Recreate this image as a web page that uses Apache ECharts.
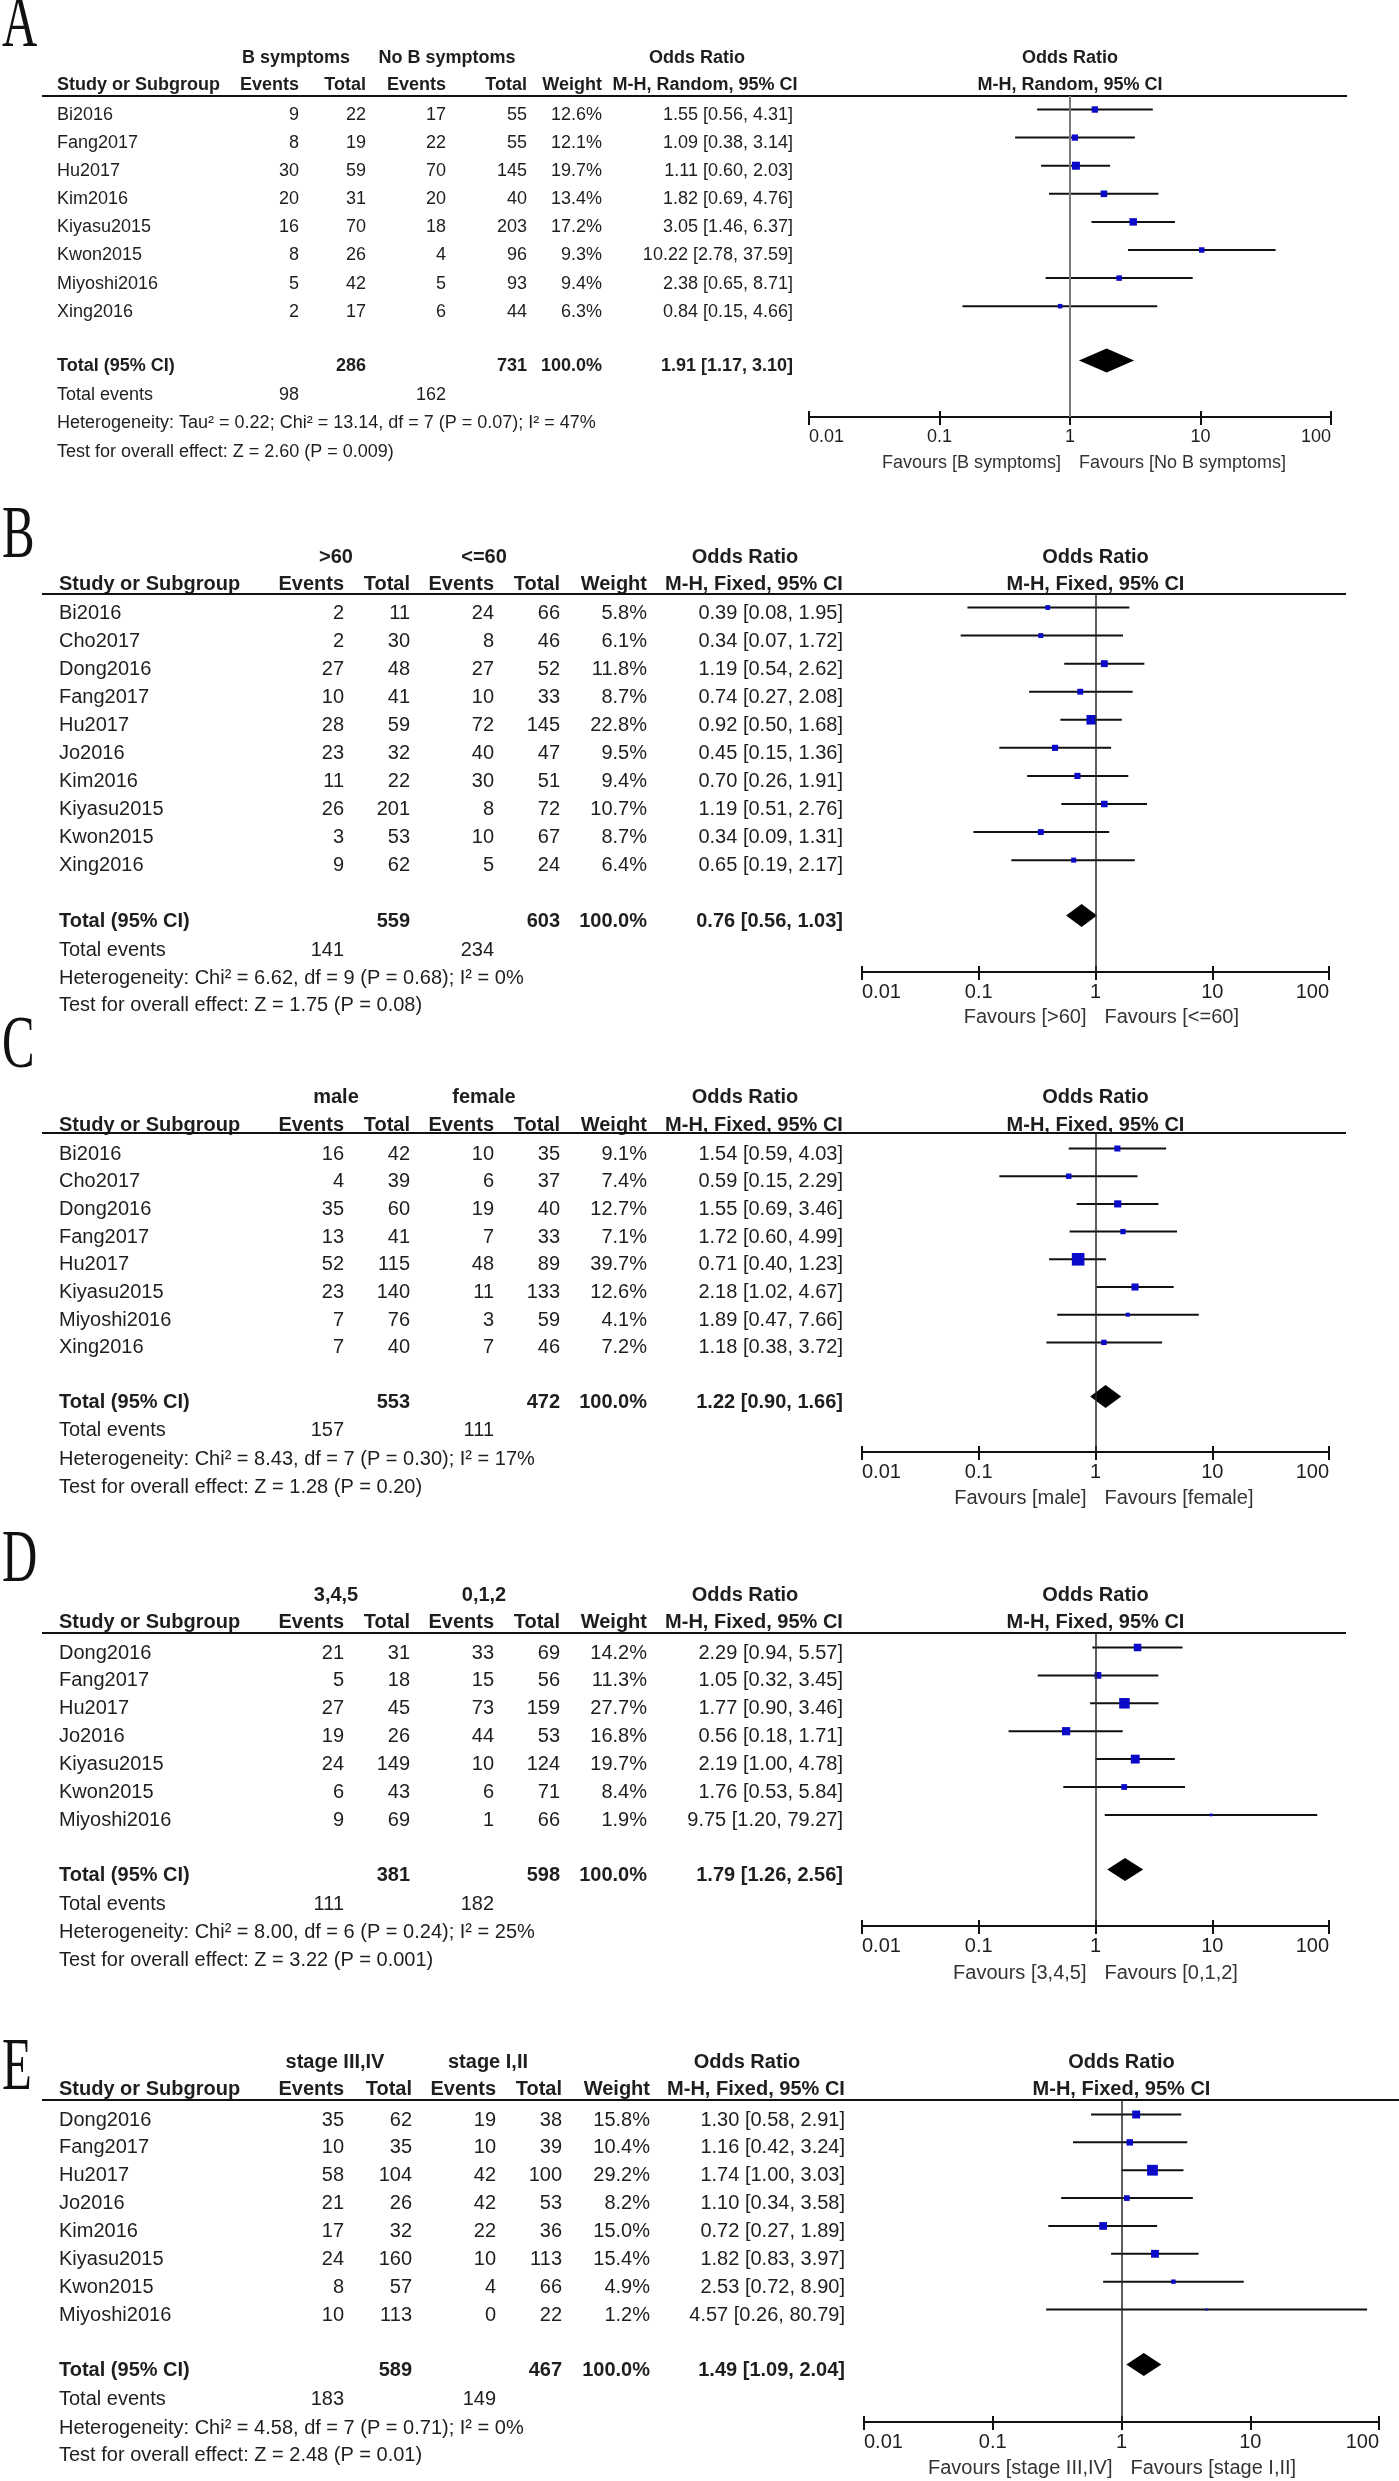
<!DOCTYPE html>
<html>
<head>
<meta charset="utf-8">
<title>Forest plots</title>
<script src="https://cdn.jsdelivr.net/npm/echarts@6/dist/echarts.min.js"></script>
<style>
html, body { margin: 0; padding: 0; background: #fff; }
#chart { width: 1399px; height: 2481px; }
</style>
</head>
<body>
<div id="chart"></div>
<script>
"use strict";

var FONT = "'Liberation Sans', Arial, Helvetica, sans-serif";
var SERIF = "'Liberation Serif', 'Times New Roman', serif";
var tickValues = [0.01, 0.1, 1, 10, 100];

/* A: B symptoms */
var studiesA = ["Bi2016", "Fang2017", "Hu2017", "Kim2016", "Kiyasu2015", "Kwon2015", "Miyoshi2016", "Xing2016"];
var expEventsA = [9, 8, 30, 20, 16, 8, 5, 2];
var expTotalA = [22, 19, 59, 31, 70, 26, 42, 17];
var ctlEventsA = [17, 22, 70, 20, 18, 4, 5, 6];
var ctlTotalA = [55, 55, 145, 40, 203, 96, 93, 44];
var weightA = [12.6, 12.1, 19.7, 13.4, 17.2, 9.3, 9.4, 6.3];
var orA = [1.55, 1.09, 1.11, 1.82, 3.05, 10.22, 2.38, 0.84];
var lowerA = [0.56, 0.38, 0.6, 0.69, 1.46, 2.78, 0.65, 0.15];
var upperA = [4.31, 3.14, 2.03, 4.76, 6.37, 37.59, 8.71, 4.66];
var groupsA = ["B symptoms", "No B symptoms"];
var totalsA = [286, 731];
var eventsA = [98, 162];
var pooledA = [1.91, 1.17, 3.1];
var statsA = ["Heterogeneity: Tau\u00b2 = 0.22; Chi\u00b2 = 13.14, df = 7 (P = 0.07); I\u00b2 = 47%", "Test for overall effect: Z = 2.60 (P = 0.009)"];

/* B: age */
var studiesB = ["Bi2016", "Cho2017", "Dong2016", "Fang2017", "Hu2017", "Jo2016", "Kim2016", "Kiyasu2015", "Kwon2015", "Xing2016"];
var expEventsB = [2, 2, 27, 10, 28, 23, 11, 26, 3, 9];
var expTotalB = [11, 30, 48, 41, 59, 32, 22, 201, 53, 62];
var ctlEventsB = [24, 8, 27, 10, 72, 40, 30, 8, 10, 5];
var ctlTotalB = [66, 46, 52, 33, 145, 47, 51, 72, 67, 24];
var weightB = [5.8, 6.1, 11.8, 8.7, 22.8, 9.5, 9.4, 10.7, 8.7, 6.4];
var orB = [0.39, 0.34, 1.19, 0.74, 0.92, 0.45, 0.7, 1.19, 0.34, 0.65];
var lowerB = [0.08, 0.07, 0.54, 0.27, 0.5, 0.15, 0.26, 0.51, 0.09, 0.19];
var upperB = [1.95, 1.72, 2.62, 2.08, 1.68, 1.36, 1.91, 2.76, 1.31, 2.17];
var groupsB = [">60", "<=60"];
var totalsB = [559, 603];
var eventsB = [141, 234];
var pooledB = [0.76, 0.56, 1.03];
var statsB = ["Heterogeneity: Chi\u00b2 = 6.62, df = 9 (P = 0.68); I\u00b2 = 0%", "Test for overall effect: Z = 1.75 (P = 0.08)"];

/* C: sex */
var studiesC = ["Bi2016", "Cho2017", "Dong2016", "Fang2017", "Hu2017", "Kiyasu2015", "Miyoshi2016", "Xing2016"];
var expEventsC = [16, 4, 35, 13, 52, 23, 7, 7];
var expTotalC = [42, 39, 60, 41, 115, 140, 76, 40];
var ctlEventsC = [10, 6, 19, 7, 48, 11, 3, 7];
var ctlTotalC = [35, 37, 40, 33, 89, 133, 59, 46];
var weightC = [9.1, 7.4, 12.7, 7.1, 39.7, 12.6, 4.1, 7.2];
var orC = [1.54, 0.59, 1.55, 1.72, 0.71, 2.18, 1.89, 1.18];
var lowerC = [0.59, 0.15, 0.69, 0.6, 0.4, 1.02, 0.47, 0.38];
var upperC = [4.03, 2.29, 3.46, 4.99, 1.23, 4.67, 7.66, 3.72];
var groupsC = ["male", "female"];
var totalsC = [553, 472];
var eventsC = [157, 111];
var pooledC = [1.22, 0.9, 1.66];
var statsC = ["Heterogeneity: Chi\u00b2 = 8.43, df = 7 (P = 0.30); I\u00b2 = 17%", "Test for overall effect: Z = 1.28 (P = 0.20)"];

/* D: IPI */
var studiesD = ["Dong2016", "Fang2017", "Hu2017", "Jo2016", "Kiyasu2015", "Kwon2015", "Miyoshi2016"];
var expEventsD = [21, 5, 27, 19, 24, 6, 9];
var expTotalD = [31, 18, 45, 26, 149, 43, 69];
var ctlEventsD = [33, 15, 73, 44, 10, 6, 1];
var ctlTotalD = [69, 56, 159, 53, 124, 71, 66];
var weightD = [14.2, 11.3, 27.7, 16.8, 19.7, 8.4, 1.9];
var orD = [2.29, 1.05, 1.77, 0.56, 2.19, 1.76, 9.75];
var lowerD = [0.94, 0.32, 0.9, 0.18, 1.0, 0.53, 1.2];
var upperD = [5.57, 3.45, 3.46, 1.71, 4.78, 5.84, 79.27];
var groupsD = ["3,4,5", "0,1,2"];
var totalsD = [381, 598];
var eventsD = [111, 182];
var pooledD = [1.79, 1.26, 2.56];
var statsD = ["Heterogeneity: Chi\u00b2 = 8.00, df = 6 (P = 0.24); I\u00b2 = 25%", "Test for overall effect: Z = 3.22 (P = 0.001)"];

/* E: stage */
var studiesE = ["Dong2016", "Fang2017", "Hu2017", "Jo2016", "Kim2016", "Kiyasu2015", "Kwon2015", "Miyoshi2016"];
var expEventsE = [35, 10, 58, 21, 17, 24, 8, 10];
var expTotalE = [62, 35, 104, 26, 32, 160, 57, 113];
var ctlEventsE = [19, 10, 42, 42, 22, 10, 4, 0];
var ctlTotalE = [38, 39, 100, 53, 36, 113, 66, 22];
var weightE = [15.8, 10.4, 29.2, 8.2, 15.0, 15.4, 4.9, 1.2];
var orE = [1.3, 1.16, 1.74, 1.1, 0.72, 1.82, 2.53, 4.57];
var lowerE = [0.58, 0.42, 1.0, 0.34, 0.27, 0.83, 0.72, 0.26];
var upperE = [2.91, 3.24, 3.03, 3.58, 1.89, 3.97, 8.9, 80.79];
var groupsE = ["stage III,IV", "stage I,II"];
var totalsE = [589, 467];
var eventsE = [183, 149];
var pooledE = [1.49, 1.09, 2.04];
var statsE = ["Heterogeneity: Chi\u00b2 = 4.58, df = 7 (P = 0.71); I\u00b2 = 0%", "Test for overall effect: Z = 2.48 (P = 0.01)"];

// layout: column x positions, row y positions, styles
var colsA = { name: 57, e1: 299, t1: 366, e2: 446, t2: 527, w: 602, or: 793, g1: 296, g2: 447, orHead: 697, method: 705, x0: 809, x1: 1331, ulStart: 42, ulEnd: 1347 };
var colsBD = { name: 59, e1: 344, t1: 410, e2: 494, t2: 560, w: 647, or: 843, g1: 336, g2: 484, orHead: 745, method: 754, x0: 862, x1: 1329, ulStart: 42, ulEnd: 1346 };
var colsE = { name: 59, e1: 344, t1: 412, e2: 496, t2: 562, w: 650, or: 845, g1: 335, g2: 488, orHead: 747, method: 756, x0: 864, x1: 1379, ulStart: 42, ulEnd: 1399 };

var styleA = { fs: 18, box: 1.8, dh: 12, refColor: "#7a7a7a", refWidth: 2, lblMargin: 11 };
var styleBE = { fs: 20, box: 2.0, dh: 11.5, refColor: "#2a2a2a", refWidth: 1.5, lblMargin: 10 };

var panels = [
  { letter: "A", studies: studiesA, expEvents: expEventsA, expTotal: expTotalA, ctlEvents: ctlEventsA, ctlTotal: ctlTotalA,
    weight: weightA, or: orA, lower: lowerA, upper: upperA, groups: groupsA, totals: totalsA, events: eventsA,
    pooled: pooledA, stats: statsA, method: "M-H, Random, 95% CI", cols: colsA, st: styleA,
    rows: { letter: 27, h1: 58, h2: 85, ul: 96, row0: 115, rowH: 28.1, total: 366, events: 395, het: 423, test: 452, axis: 417, fav: 463 } },
  { letter: "B", studies: studiesB, expEvents: expEventsB, expTotal: expTotalB, ctlEvents: ctlEventsB, ctlTotal: ctlTotalB,
    weight: weightB, or: orB, lower: lowerB, upper: upperB, groups: groupsB, totals: totalsB, events: eventsB,
    pooled: pooledB, stats: statsB, method: "M-H, Fixed, 95% CI", cols: colsBD, st: styleBE,
    rows: { letter: 538, h1: 557, h2: 584, ul: 594, row0: 613, rowH: 28.07, total: 921, events: 950, het: 978, test: 1005, axis: 972, fav: 1017 } },
  { letter: "C", studies: studiesC, expEvents: expEventsC, expTotal: expTotalC, ctlEvents: ctlEventsC, ctlTotal: ctlTotalC,
    weight: weightC, or: orC, lower: lowerC, upper: upperC, groups: groupsC, totals: totalsC, events: eventsC,
    pooled: pooledC, stats: statsC, method: "M-H, Fixed, 95% CI", cols: colsBD, st: styleBE,
    rows: { letter: 1048, h1: 1097, h2: 1125, ul: 1133, row0: 1154, rowH: 27.7, total: 1402, events: 1430, het: 1459, test: 1487, axis: 1452, fav: 1498 } },
  { letter: "D", studies: studiesD, expEvents: expEventsD, expTotal: expTotalD, ctlEvents: ctlEventsD, ctlTotal: ctlTotalD,
    weight: weightD, or: orD, lower: lowerD, upper: upperD, groups: groupsD, totals: totalsD, events: eventsD,
    pooled: pooledD, stats: statsD, method: "M-H, Fixed, 95% CI", cols: colsBD, st: styleBE,
    rows: { letter: 1562, h1: 1595, h2: 1622, ul: 1633, row0: 1653, rowH: 27.9, total: 1875, events: 1904, het: 1932, test: 1960, axis: 1926, fav: 1973 } },
  { letter: "E", studies: studiesE, expEvents: expEventsE, expTotal: expTotalE, ctlEvents: ctlEventsE, ctlTotal: ctlTotalE,
    weight: weightE, or: orE, lower: lowerE, upper: upperE, groups: groupsE, totals: totalsE, events: eventsE,
    pooled: pooledE, stats: statsE, method: "M-H, Fixed, 95% CI", cols: colsE, st: styleBE,
    rows: { letter: 2070, h1: 2062, h2: 2089, ul: 2100, row0: 2120, rowH: 27.86, total: 2370, events: 2399, het: 2428, test: 2455, axis: 2422, fav: 2468 } }
];

function fmt(v) { return v.toFixed(2); }
function orText(o, l, h) { return fmt(o) + " [" + fmt(l) + ", " + fmt(h) + "]"; }

var grids = [];
var xAxes = [];
var yAxes = [];
var series = [];
var elements = [];

function addText(text, x, y, align, size, bold, color) {
  elements.push({
    type: "text", x: x, y: y, silent: true,
    style: {
      text: text, fontSize: size, fontWeight: bold ? "bold" : "normal", fontFamily: FONT,
      fill: color || "#1e1e1e", align: align, verticalAlign: "middle",
      textAlign: align, textVerticalAlign: "middle"
    }
  });
}

panels.forEach(function (p, k) {
  var c = p.cols;
  var r = p.rows;
  var st = p.st;
  var fs = st.fs;
  var cx = (c.x0 + c.x1) / 2;
  var plotRow0 = r.row0 - 5.5; // marks sit a little above the text centre
  var n = p.studies.length;

  // panel letter
  elements.push({
    type: "text", x: 2, y: r.letter, scaleX: 0.66, silent: true,
    style: { text: p.letter, fontSize: 74, fontFamily: SERIF, fill: "#111", align: "left", verticalAlign: "middle", textAlign: "left", textVerticalAlign: "middle" }
  });

  // header rows
  addText(p.groups[0], c.g1, r.h1, "center", fs, true);
  addText(p.groups[1], c.g2, r.h1, "center", fs, true);
  addText("Odds Ratio", c.orHead, r.h1, "center", fs, true);
  addText("Odds Ratio", cx, r.h1, "center", fs, true);
  addText("Study or Subgroup", c.name, r.h2, "left", fs, true);
  addText("Events", c.e1, r.h2, "right", fs, true);
  addText("Total", c.t1, r.h2, "right", fs, true);
  addText("Events", c.e2, r.h2, "right", fs, true);
  addText("Total", c.t2, r.h2, "right", fs, true);
  addText("Weight", c.w, r.h2, "right", fs, true);
  addText(p.method, c.method, r.h2, "center", fs, true);
  addText(p.method, cx, r.h2, "center", fs, true);
  elements.push({
    type: "line", silent: true,
    shape: { x1: c.ulStart, y1: r.ul, x2: c.ulEnd, y2: r.ul },
    style: { stroke: "#111", lineWidth: 2 }
  });

  // study rows
  p.studies.forEach(function (name, i) {
    var y = r.row0 + i * r.rowH;
    addText(name, c.name, y, "left", fs, false);
    addText(String(p.expEvents[i]), c.e1, y, "right", fs, false);
    addText(String(p.expTotal[i]), c.t1, y, "right", fs, false);
    addText(String(p.ctlEvents[i]), c.e2, y, "right", fs, false);
    addText(String(p.ctlTotal[i]), c.t2, y, "right", fs, false);
    addText(p.weight[i].toFixed(1) + "%", c.w, y, "right", fs, false);
    addText(orText(p.or[i], p.lower[i], p.upper[i]), c.or, y, "right", fs, false);
  });

  // summary rows
  addText("Total (95% CI)", c.name, r.total, "left", fs, true);
  addText(String(p.totals[0]), c.t1, r.total, "right", fs, true);
  addText(String(p.totals[1]), c.t2, r.total, "right", fs, true);
  addText("100.0%", c.w, r.total, "right", fs, true);
  addText(orText(p.pooled[0], p.pooled[1], p.pooled[2]), c.or, r.total, "right", fs, true);
  addText("Total events", c.name, r.events, "left", fs, false);
  addText(String(p.events[0]), c.e1, r.events, "right", fs, false);
  addText(String(p.events[1]), c.e2, r.events, "right", fs, false);
  addText(p.stats[0], c.name, r.het, "left", fs, false);
  addText(p.stats[1], c.name, r.test, "left", fs, false);

  // favours labels
  addText("Favours [" + p.groups[0] + "]", cx - 9, r.fav, "right", fs, false, "#333");
  addText("Favours [" + p.groups[1] + "]", cx + 9, r.fav, "left", fs, false, "#333");

  // forest plot
  grids.push({ left: c.x0, width: c.x1 - c.x0, top: r.ul, height: r.axis - r.ul, containLabel: false, outerBoundsMode: "none" });
  xAxes.push({
    gridIndex: k, type: "log", logBase: 10, min: tickValues[0], max: tickValues[tickValues.length - 1],
    position: "bottom",
    axisLine: { show: true, onZero: false, lineStyle: { color: "#111", width: 2 } },
    axisTick: { show: true, inside: false, length: 8, lineStyle: { color: "#111", width: 2 } },
    axisLabel: {
      show: true, margin: st.lblMargin, fontSize: fs, fontFamily: FONT, color: "#1e1e1e",
      alignMinLabel: "left", alignMaxLabel: "right",
      formatter: function (v) { return String(parseFloat(Number(v).toPrecision(3))); }
    },
    splitLine: { show: false },
    minorTick: { show: false }
  });
  xAxes.push({
    gridIndex: k, type: "log", logBase: 10, min: tickValues[0], max: tickValues[tickValues.length - 1],
    position: "bottom",
    axisLine: { show: false, onZero: false },
    axisTick: { show: true, inside: true, length: 6, lineStyle: { color: "#111", width: 2 } },
    axisLabel: { show: false },
    splitLine: { show: false }
  });
  yAxes.push({
    gridIndex: k, type: "value", inverse: true, show: false,
    min: (r.ul - plotRow0) / r.rowH,
    max: (r.axis - plotRow0) / r.rowH
  });

  var totalRow = (r.total - r.row0) / r.rowH;

  series.push({
    type: "custom", xAxisIndex: 2 * k, yAxisIndex: k, silent: true, z: 3,
    data: p.or.map(function (o, i) { return [o, p.lower[i], p.upper[i], i, p.weight[i]]; }),
    encode: { x: [0, 1, 2], y: 3 },
    renderItem: function (params, api) {
      var row = api.value(3);
      var mid = api.coord([api.value(0), row]);
      var lo = api.coord([api.value(1), row]);
      var hi = api.coord([api.value(2), row]);
      var s = st.box * Math.sqrt(api.value(4));
      return {
        type: "group",
        children: [
          { type: "line", shape: { x1: lo[0], y1: mid[1], x2: hi[0], y2: mid[1] }, style: { stroke: "#111", lineWidth: 2 } },
          { type: "rect", shape: { x: mid[0] - s / 2, y: mid[1] - s / 2, width: s, height: s }, style: { fill: "#0a0ac8" } }
        ]
      };
    },
    markLine: {
      silent: true, symbol: ["none", "none"], label: { show: false }, animation: false,
      lineStyle: { color: st.refColor, width: st.refWidth, type: "solid" },
      data: [{ xAxis: 1 }]
    }
  });

  series.push({
    type: "custom", xAxisIndex: 2 * k, yAxisIndex: k, silent: true, z: 4,
    data: [[p.pooled[0], p.pooled[1], p.pooled[2], totalRow]],
    encode: { x: [0, 1, 2], y: 3 },
    renderItem: function (params, api) {
      var row = api.value(3);
      var mid = api.coord([api.value(0), row]);
      var lo = api.coord([api.value(1), row]);
      var hi = api.coord([api.value(2), row]);
      return {
        type: "polygon",
        shape: { points: [[lo[0], mid[1]], [mid[0], mid[1] - st.dh], [hi[0], mid[1]], [mid[0], mid[1] + st.dh]] },
        style: { fill: "#000" }
      };
    }
  });
});

var chart = echarts.init(document.getElementById("chart"));
chart.setOption({
  animation: false,
  backgroundColor: "#fff",
  textStyle: { fontFamily: FONT },
  grid: grids,
  xAxis: xAxes,
  yAxis: yAxes,
  series: series,
  graphic: { elements: elements }
});
</script>
</body>
</html>
